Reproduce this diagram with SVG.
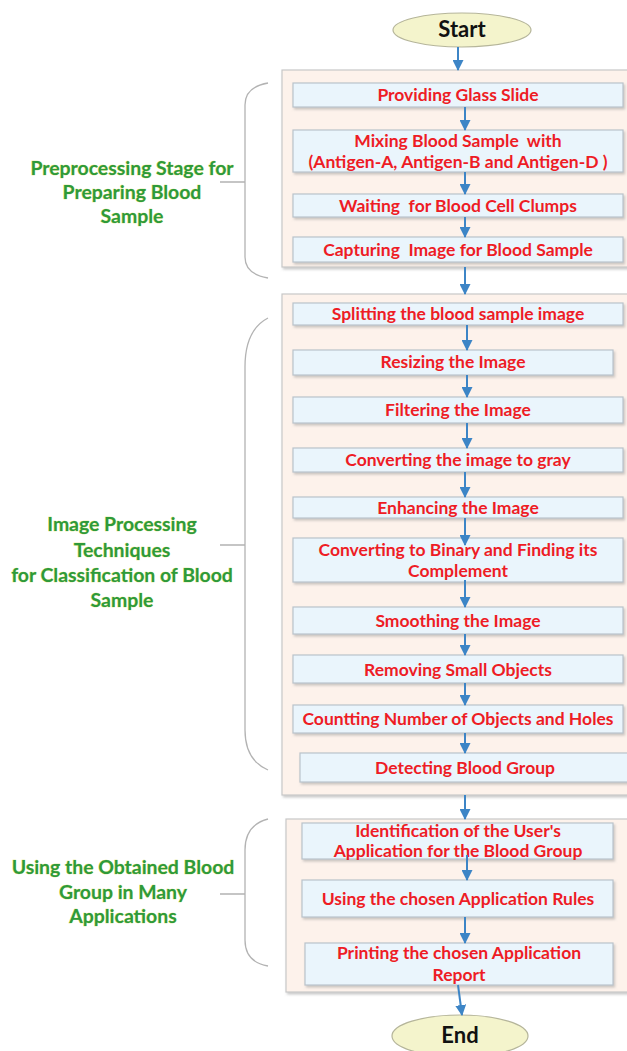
<svg xmlns="http://www.w3.org/2000/svg" width="627" height="1051" viewBox="0 0 627 1051">
<style>
.panel{fill:#fdf2eb;stroke:#c8c8c8;stroke-width:1.2}
.box{fill:#eaf5fc;stroke:#b9c3cb;stroke-width:1.2}
.term{fill:#f4f4cc;stroke:#b5b59a;stroke-width:1.2}
.t{font-family:Lato,"Open Sans",sans-serif;font-weight:bold;font-size:17.5px;fill:#ee1c25;text-anchor:middle;white-space:pre}
.g{font-family:Lato,"Open Sans",sans-serif;font-weight:bold;font-size:19.4px;fill:#2e9a3a;text-anchor:middle;stroke:#d9e36a;stroke-width:0.6;paint-order:stroke}
.k{font-family:Lato,"Open Sans",sans-serif;font-weight:bold;font-size:22px;fill:#111;text-anchor:middle}
.c{stroke:#3d85c6;stroke-width:2;fill:none;marker-end:url(#ah)}
.br{stroke:#b3b3b3;stroke-width:1.3;fill:none}
</style>
<defs>
<marker id="ah" markerUnits="userSpaceOnUse" markerWidth="11" markerHeight="11" refX="10" refY="5.5" orient="auto">
<path d="M0,0 L11,5.5 L0,11 z" fill="#3d85c6"/>
</marker>
<filter id="sh" x="-5%" y="-20%" width="110%" height="150%">
<feDropShadow dx="1.5" dy="2" stdDeviation="1" flood-color="#999" flood-opacity="0.5"/>
</filter>
</defs>

<g id="panels">
<rect class="panel" x="282" y="70" width="360" height="197" filter="url(#sh)"/>
<rect class="panel" x="282" y="294" width="360" height="501" filter="url(#sh)"/>
<rect class="panel" x="286" y="819" width="360" height="173" filter="url(#sh)"/>
</g>

<g id="brackets">
<path class="br" d="M268,83 Q245,87 245,105 L245,257 Q245,274 268,278 M220,182 L245,182"/>
<path class="br" d="M268,318 Q245,330 245,367 L245,730 Q245,760 268,770 M220,545 L245,545"/>
<path class="br" d="M268,819 Q245,825 245,850 L245,940 Q245,962 268,966 M220,894 L245,894"/>
</g>

<g id="stage-labels">
<text class="g" x="132" y="175">Preprocessing Stage for</text>
<text class="g" x="132" y="199">Preparing Blood</text>
<text class="g" x="132" y="223">Sample</text>
<text class="g" x="122" y="531">Image Processing</text>
<text class="g" x="122" y="557">Techniques</text>
<text class="g" x="122" y="582">for Classification of Blood</text>
<text class="g" x="122" y="607">Sample</text>
<text class="g" x="123" y="874">Using the Obtained Blood</text>
<text class="g" x="123" y="899">Group in Many</text>
<text class="g" x="123" y="923">Applications</text>
</g>

<g id="start"><ellipse class="term" cx="462" cy="30" rx="69" ry="17"/><text class="k" x="462" y="37">Start</text></g>

<g id="n1"><rect class="box" x="293" y="83" width="330" height="24" filter="url(#sh)"/><text class="t" x="458" y="101">Providing Glass Slide</text></g>
<g id="n2"><rect class="box" x="293" y="130" width="330" height="42" filter="url(#sh)"/><text class="t" x="458" y="147" xml:space="preserve">Mixing Blood Sample  with</text><text class="t" x="458" y="168">(Antigen-A, Antigen-B and Antigen-D )</text></g>
<g id="n3"><rect class="box" x="293" y="194" width="330" height="23" filter="url(#sh)"/><text class="t" x="458" y="212" xml:space="preserve">Waiting  for Blood Cell Clumps</text></g>
<g id="n4"><rect class="box" x="293" y="237" width="330" height="25" filter="url(#sh)"/><text class="t" x="458" y="256" xml:space="preserve">Capturing  Image for Blood Sample</text></g>

<g id="n5"><rect class="box" x="293" y="303" width="330" height="22" filter="url(#sh)"/><text class="t" x="458" y="320">Splitting the blood sample image</text></g>
<g id="n6"><rect class="box" x="293" y="350" width="320" height="25" filter="url(#sh)"/><text class="t" x="453" y="368">Resizing the Image</text></g>
<g id="n7"><rect class="box" x="293" y="397" width="330" height="26" filter="url(#sh)"/><text class="t" x="458" y="416">Filtering the Image</text></g>
<g id="n8"><rect class="box" x="293" y="448" width="330" height="24" filter="url(#sh)"/><text class="t" x="458" y="466">Converting the image to gray</text></g>
<g id="n9"><rect class="box" x="293" y="497" width="330" height="21" filter="url(#sh)"/><text class="t" x="458" y="514">Enhancing the Image</text></g>
<g id="n10"><rect class="box" x="293" y="538" width="330" height="44" filter="url(#sh)"/><text class="t" x="458" y="556">Converting to Binary and Finding its</text><text class="t" x="458" y="577">Complement</text></g>
<g id="n11"><rect class="box" x="293" y="607" width="330" height="27" filter="url(#sh)"/><text class="t" x="458" y="627">Smoothing the Image</text></g>
<g id="n12"><rect class="box" x="293" y="655" width="330" height="28" filter="url(#sh)"/><text class="t" x="458" y="676">Removing Small Objects</text></g>
<g id="n13"><rect class="box" x="293" y="705" width="330" height="28" filter="url(#sh)"/><text class="t" x="458" y="725">Countting Number of Objects and Holes</text></g>
<g id="n14"><rect class="box" x="300" y="753" width="340" height="29" filter="url(#sh)"/><text class="t" x="465" y="774">Detecting Blood Group</text></g>

<g id="n15"><rect class="box" x="302" y="823" width="311" height="36" filter="url(#sh)"/><text class="t" x="458" y="837">Identification of the User's</text><text class="t" x="458" y="857">Application for the Blood Group</text></g>
<g id="n16"><rect class="box" x="302" y="880" width="311" height="37" filter="url(#sh)"/><text class="t" x="458" y="905">Using the chosen Application Rules</text></g>
<g id="n17"><rect class="box" x="305" y="943" width="308" height="42" filter="url(#sh)"/><text class="t" x="459" y="959">Printing the chosen Application</text><text class="t" x="459" y="981">Report</text></g>

<g id="end"><ellipse class="term" cx="460" cy="1036" rx="68" ry="21"/><text class="k" x="460" y="1043">End</text></g>

<g id="connectors">
<path class="c" d="M458,47 L458,70"/>
<path class="c" d="M465,107 L465,130"/>
<path class="c" d="M465,172 L465,194"/>
<path class="c" d="M465,217 L465,237"/>
<path class="c" d="M465,267 L465,294"/>
<path class="c" d="M467,325 L467,350"/>
<path class="c" d="M467,375 L467,397"/>
<path class="c" d="M467,423 L467,448"/>
<path class="c" d="M465,472 L465,497"/>
<path class="c" d="M465,518 L465,545"/>
<path class="c" d="M465,580 L465,607"/>
<path class="c" d="M465,634 L465,655"/>
<path class="c" d="M465,683 L465,705"/>
<path class="c" d="M465,733 L465,753"/>
<path class="c" d="M465,795 L465,819"/>
<path class="c" d="M467,855 L467,880"/>
<path class="c" d="M465,917 L465,943"/>
<path class="c" d="M458,985 L462,1015"/>
</g>
</svg>
